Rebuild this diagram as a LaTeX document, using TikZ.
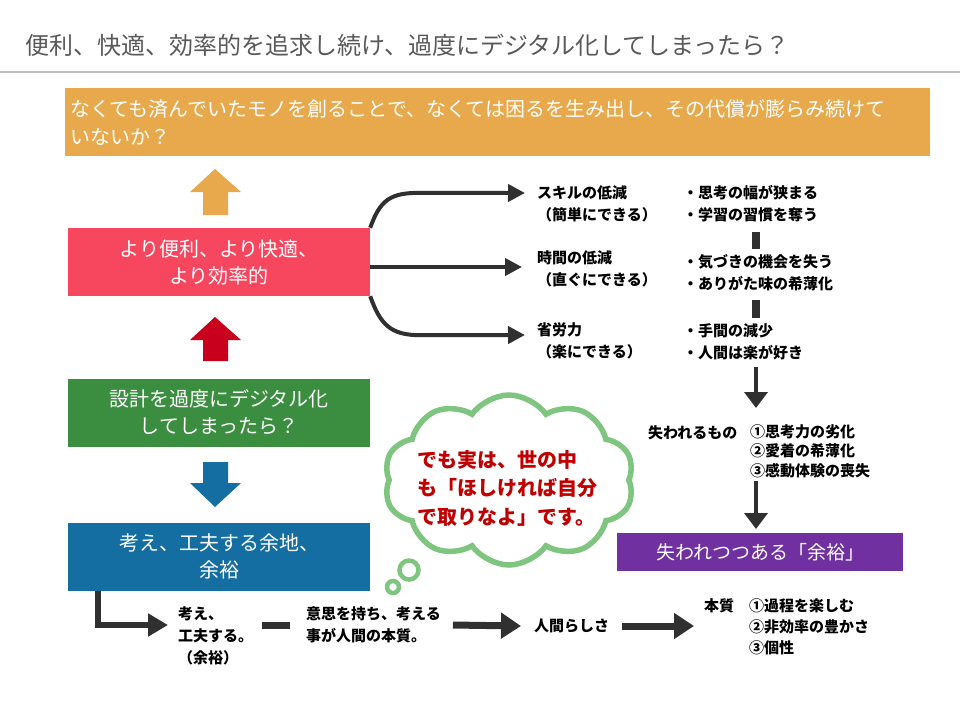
\documentclass[tikz,border=0pt]{standalone}
\usepackage{fontspec}
\setmainfont{Noto Sans CJK JP}
\usetikzlibrary{arrows.meta,positioning,shapes.symbols,calc}
\definecolor{titlegray}{HTML}{595959}
\definecolor{rulegray}{HTML}{BFBFBF}
\definecolor{boxorange}{HTML}{E8A94C}
\definecolor{boxpink}{HTML}{F6475E}
\definecolor{arrowred}{HTML}{C8001E}
\definecolor{boxgreen}{HTML}{3B8E40}
\definecolor{boxblue}{HTML}{156EA2}
\definecolor{boxpurple}{HTML}{7030A0}
\definecolor{linedark}{HTML}{303030}
\definecolor{cloudgreen}{HTML}{7EC580}
\definecolor{saytext}{HTML}{C00000}

\begin{document}
\begin{tikzpicture}[
    x=1pt, y=-1pt,
    bigbox/.style={fill=#1, text=white, inner sep=0, align=center,
        minimum width=302pt, minimum height=68pt,
        font=\fontsize{20}{27}\selectfont},
    lbl/.style={anchor=west, align=left, inner sep=0,
        font=\bfseries\fontsize{15}{22}\selectfont},
    branch/.style={draw=linedark, line width=4pt, -{Triangle[length=17pt,width=17pt]}},
    downarrow/.style={draw=linedark, line width=4.5pt, -{Triangle[length=16pt,width=23pt]}},
    fatarrow/.style={draw=linedark, line width=7pt, -{Triangle[length=20pt,width=25pt]}},
    bar/.style={draw=linedark, line width=7pt},
    puff/.style={circle, draw=cloudgreen, fill=white, line width=4.5pt, inner sep=0}]
\useasboundingbox (0,0) rectangle (960,720);

% title
\node[anchor=west, inner sep=0, text=titlegray, font=\fontsize{24}{28}\selectfont] (title) at (25,45)
    {便利、快適、効率的を追求し続け、過度にデジタル化してしまったら？};
\draw[rulegray, line width=2.5pt] (0,72) -- (960,72);

% top box
\node[fill=boxorange, text=white, anchor=north west, minimum width=865pt, minimum height=68pt,
      text width=855pt, inner xsep=5pt, inner ysep=0, align=left,
      font=\fontsize{20}{28}\selectfont] (cost) at (65,88)
    {なくても済んでいたモノを創ることで、なくては困るを生み出し、その代償が膨らみ続けて\\いないか？};

% left column
\node[bigbox=boxpink]   (pink)  at (219,262) {より便利、より快適、\\より効率的};
\node[bigbox=boxgreen]  (green) at (219,412.5) {設計を過度にデジタル化\\してしまったら？};
\node[bigbox=boxblue]   (blue)  at (219,556.5) {考え、工夫する余地、\\余裕};

% block arrows
\fill[boxorange] (203,215) -- (203,192) -- (190,192) -- (215,169) -- (241,192) -- (228,192) -- (228,215) -- cycle;
\fill[arrowred]  (203,361) -- (203,340) -- (190,340) -- (215,317) -- (241,340) -- (228,340) -- (228,361) -- cycle;
\fill[boxblue]   (203,462) -- (203,483) -- (190,483) -- (215,507) -- (241,483) -- (228,483) -- (228,462) -- cycle;

% effects
\node[lbl] (skill) at (537,204) {スキルの低減\\（簡単にできる）};
\node[lbl] (time)  at (537,269) {時間の低減\\（直ぐにできる）};
\node[lbl] (labor) at (537,341) {省労力\\（楽にできる）};
\coordinate (skillin) at (525,193);
\coordinate (timein)  at (522,267);
\coordinate (laborin) at (525,335);

\draw[branch] (pink.north east) .. controls +(10,-28) and +(-30,0) .. +(50,-35) -- (skillin);
\draw[branch] (pink.east |- timein) -- (timein);
\draw[branch] (pink.south east) .. controls +(10,28) and +(-30,0) .. +(50,39) -- (laborin);

% consequences
\node[lbl] (r1) at (683,204) {・思考の幅が狭まる\\・学習の習慣を奪う};
\node[lbl] (r2) at (683,273) {・気づきの機会を失う\\・ありがた味の希薄化};
\node[lbl] (r3) at (683,342) {・手間の減少\\・人間は楽が好き};
\coordinate (spine) at (756,0);
\draw[draw=linedark, line width=8pt, shorten <=9pt, shorten >=6pt] (spine |- r1.south) -- (spine |- r2.north);
\draw[draw=linedark, line width=8pt, shorten <=9pt, shorten >=6pt] (spine |- r2.south) -- (spine |- r3.north);

\node[lbl] (lost) at (648,433) {失われるもの};
\node[lbl, anchor=north west, font=\bfseries\fontsize{15}{19.5}\selectfont] (lostlist) at (750,424)
    {①思考力の劣化\\②愛着の希薄化\\③感動体験の喪失};
\node[fill=boxpurple, text=white, anchor=north west, minimum width=286pt, minimum height=38pt,
      inner sep=0, font=\fontsize{19}{24}\selectfont] (margin) at (617,533) {失われつつある「余裕」};

\draw[downarrow, shorten <=7pt, shorten >=16pt] (spine |- r3.south) -- (spine |- lostlist.north);
\draw[downarrow, shorten <=3pt, shorten >=4pt] (spine |- lostlist.south) -- (spine |- margin.north);

% thought cloud
\node[cloud, draw=cloudgreen, fill=white, line width=5.5pt, cloud puffs=10, cloud puff arc=110, aspect=1.5,
      minimum width=250pt, minimum height=170pt, inner sep=0] (think) at (509,480) {};
\node[puff, minimum size=19pt] (puffa) at (409,570) {};
\node[puff, minimum size=12pt] (puffb) at (393,587) {};
\node[text=saytext, align=left, inner sep=0, font=\bfseries\fontsize{20}{28.5}\selectfont] (saying) at (507,488)
    {でも実は、世の中\\も「ほしければ自分\\で取りなよ」です。};

% bottom flow
\node[lbl] (kangae) at (178,636) {考え、\\工夫する。\\（余裕）};
\node[lbl] (ishi)   at (306,625) {意思を持ち、考える\\事が人間の本質。};
\node[lbl] (ningen) at (534,626) {人間らしさ};
\node[lbl] (essence) at (704,606) {本質};
\node[lbl, font=\bfseries\fontsize{15}{21}\selectfont] (essencelist) at (749,627)
    {①過程を楽しむ\\②非効率の豊かさ\\③個性};
\coordinate (kangaein) at (168,625);

\draw[draw=linedark, line width=6pt, -{Triangle[length=20pt,width=22pt]}]
    ([xshift=30pt]blue.south west) |- (kangaein);
\draw[bar] ([xshift=9pt]kangae.east |- ishi.west) -- ([xshift=-16pt]ishi.west);
\draw[fatarrow] ([xshift=12pt]ishi.east) -- ([xshift=-13pt]ningen.west);
\draw[fatarrow] ([xshift=13pt]ningen.east) -- ([xshift=-10pt]ningen.east -| essence.west);

\end{tikzpicture}
\end{document}
